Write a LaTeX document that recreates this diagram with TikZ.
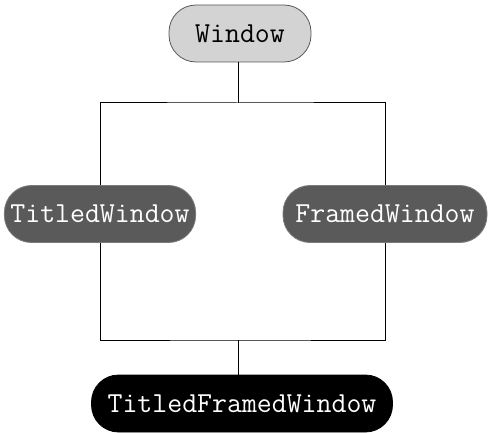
\documentclass[tikz,border=0pt]{standalone}
\usepackage{xcolor}
\usepackage{tikz}
\usetikzlibrary{positioning, calc}

\definecolor{lightcls}{HTML}{D3D3D3}
\definecolor{midcls}{HTML}{5A5A5A}

\begin{document}
\begin{tikzpicture}[
    x=1pt, y=1pt,
    cls/.style={rectangle, rounded corners=27pt, draw=black!65, line width=0.8pt,
        minimum height=57pt, inner xsep=6pt, align=center,
        font=\ttfamily\fontsize{29}{32}\selectfont},
    base/.style={cls, fill=lightcls, text=black, minimum width=142pt},
    mixin/.style={cls, fill=midcls, draw=midcls!80, text=white},
    leaf/.style={cls, fill=black, draw=black, text=white, minimum width=301pt},
    link/.style={draw=black, line width=1pt}
]
    \useasboundingbox (0,0) rectangle (490,432);

    \node[base] (win) at (240,398.5) {Window};
    \node[mixin, minimum width=190pt] (tw) at (100,218) {TitledWindow};
    \node[mixin, minimum width=204pt] (fw) at (385,218) {FramedWindow};
    \node[leaf] (tfw) at (242,28.5) {TitledFramedWindow};

    % inheritance bars
    \coordinate (top) at (238,329);
    \coordinate (bot) at (238,92);

    \draw[link] (win.south -| top) -- (top);
    \draw[link] (tw.north) |- (top) -| (fw.north);
    \draw[link] (tw.south) |- (bot) -| (fw.south);
    \draw[link] (bot) -- (tfw.north -| bot);

\end{tikzpicture}
\end{document}
